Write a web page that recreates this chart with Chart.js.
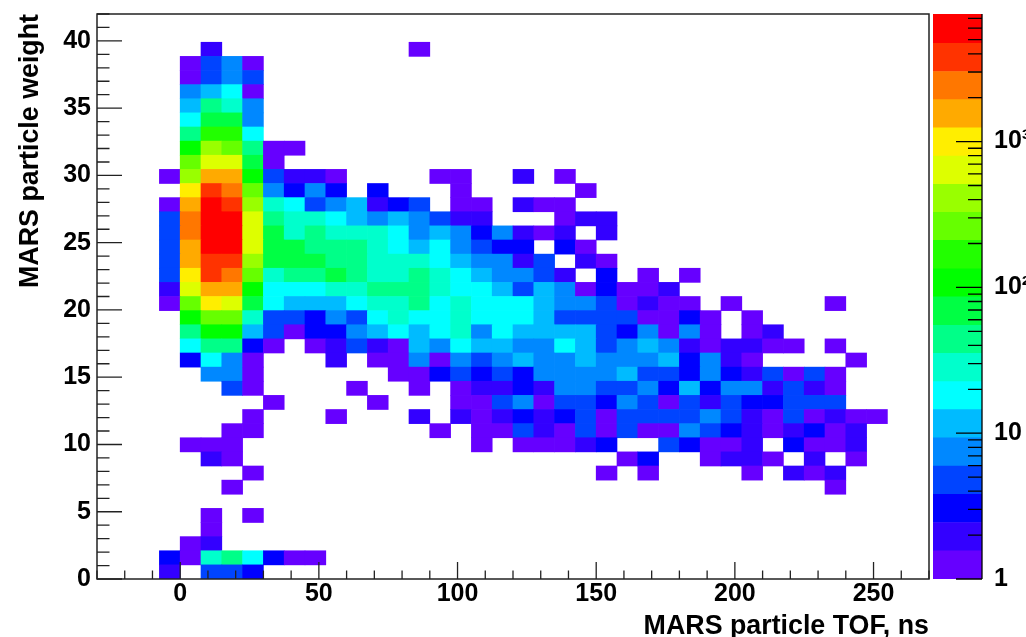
<!DOCTYPE html>
<html>
<head>
<meta charset="utf-8">
<title>MARS particle weight vs TOF</title>
<script src="https://cdn.jsdelivr.net/npm/chart.js@4/dist/chart.umd.min.js"></script>
<style>
  html, body { margin: 0; padding: 0; background: #fff; overflow: hidden; }
  #mainChart { position: absolute; left: 0; top: 0; }
  #paletteChart { position: absolute; left: 925px; top: 0; }
</style>
</head>
<body>
<canvas id="mainChart" width="1026" height="637"></canvas>
<canvas id="paletteChart" width="101" height="637"></canvas>
<script>
// lower edge of each TOF bin, ns
const tofBins = [-30, -22.5, -15, -7.5, 0, 7.5, 15, 22.5, 30, 37.5, 45, 52.5, 60, 67.5, 75, 82.5, 90, 97.5, 105, 112.5,
    120, 127.5, 135, 142.5, 150, 157.5, 165, 172.5, 180, 187.5, 195, 202.5, 210, 217.5, 225, 232.5, 240, 247.5, 255, 262.5];
const weightBinHeight = 1.05;

// entries per cell, first line is the bottom row (weight 0), short rows are empty to the right
const counts = [
    [0,0,0,2,0,5,5,3],
    [0,0,0,3,1,28,44,18,3,1,1],
    [0,0,0,0,1,2],
    [0,0,0,0,0,1],
    [0,0,0,0,0,1,0,1],
    [],
    [0,0,0,0,0,0,1,0,0,0,0,0,0,0,0,0,0,0,0,0,0,0,0,0,0,0,0,0,0,0,0,0,0,0,0,1],
    [0,0,0,0,0,0,0,1,0,0,0,0,0,0,0,0,0,0,0,0,0,0,0,0,1,0,1,0,0,0,0,1,0,2,1,2],
    [0,0,0,0,0,2,1,0,0,0,0,0,0,0,0,0,0,0,0,0,0,0,0,0,0,1,3,0,0,1,2,2,1,0,2,0,1],
    [0,0,0,0,1,1,1,0,0,0,0,0,0,0,0,0,0,0,1,0,1,1,1,2,3,0,0,5,3,1,1,2,0,3,1,1,2],
    [0,0,0,0,0,0,1,1,0,0,0,0,0,0,0,0,1,0,1,1,5,2,1,5,1,5,1,1,8,5,3,2,1,2,3,1,2],
    [0,0,0,0,0,0,0,1,0,0,0,1,0,0,0,2,0,2,1,2,3,2,3,5,1,5,5,5,5,8,5,2,1,5,1,2,1,1],
    [0,0,0,0,0,0,0,0,1,0,0,0,0,1,0,0,0,1,1,5,8,1,5,5,3,8,5,1,5,2,5,3,3,5,5,5],
    [0,0,0,0,0,0,5,1,0,0,0,0,1,0,0,1,0,1,2,2,3,2,8,8,5,5,8,3,12,3,8,8,2,5,2,1],
    [0,0,0,0,0,8,8,1,0,0,0,0,0,0,1,1,3,5,3,5,3,8,8,8,8,12,5,5,3,8,3,2,5,1,5,1],
    [0,0,0,0,3,18,8,1,0,0,0,2,0,1,1,8,1,8,5,8,12,8,8,12,8,8,8,12,3,8,2,1,0,0,0,0,1],
    [0,0,0,0,18,44,44,3,1,0,1,2,5,2,1,12,8,18,12,12,8,8,18,12,5,8,12,8,2,1,2,2,1,1,0,1],
    [0,0,0,0,44,110,110,12,5,1,3,3,8,12,18,12,18,28,8,18,12,12,12,12,5,3,8,1,8,1,0,1,2],
    [0,0,0,0,110,260,260,28,5,5,3,8,5,18,28,18,18,28,18,18,18,12,5,5,5,5,1,1,3,1,0,1],
    [0,0,0,1,260,1000,640,70,18,12,12,12,18,28,28,44,18,28,18,18,18,12,8,8,5,1,2,1,1,0,1,0,0,0,0,1],
    [0,0,0,2,640,1550,1550,110,18,18,18,28,28,44,44,44,28,18,18,12,5,12,8,1,3,1,1,2],
    [0,0,0,5,1000,3800,2400,260,28,44,44,70,44,28,28,44,28,18,12,8,8,5,2,0,3,0,1,0,1],
    [0,0,0,5,1550,3800,3800,410,70,70,70,44,44,28,28,28,18,12,8,8,2,5,0,2,1],
    [0,0,0,5,1550,6000,6000,640,70,70,44,44,44,28,18,12,18,8,5,3,3,0,3,1],
    [0,0,0,5,2400,6000,6000,640,70,28,44,28,28,28,18,8,12,8,3,8,2,1,2,0,2],
    [0,0,0,5,2400,6000,6000,640,44,28,28,18,12,8,12,8,5,2,2,0,0,0,1,2,2],
    [0,0,0,1,1550,6000,3800,410,28,18,5,8,12,2,3,5,0,1,1,0,2,1,1],
    [0,0,0,0,1000,3800,2400,260,8,3,8,3,0,3,0,0,0,1,0,0,0,0,0,1],
    [0,0,0,1,410,1550,1550,110,5,2,2,1,0,0,0,0,1,1,0,0,2,0,1],
    [0,0,0,0,260,640,640,70,1],
    [0,0,0,0,110,410,260,44,1,1],
    [0,0,0,0,44,170,170,18],
    [0,0,0,0,18,70,70,8],
    [0,0,0,0,12,44,28,8],
    [0,0,0,0,8,12,18,1],
    [0,0,0,0,1,5,8,5],
    [0,0,0,0,1,5,8,1],
    [0,0,0,0,0,2,0,0,0,0,0,0,0,0,0,1],
    [],
    []
];

// colour contours of the z axis
const zEdges = [1, 1.56, 2.44, 3.81, 5.95, 9.28, 14.5, 22.6, 35.3, 55, 86, 134, 210, 327, 510, 796, 1242, 1939, 3025, 4720, 7500];
const zColors = ['#6600ff', '#3300ff', '#0000ff', '#0044ff', '#0088ff', '#00bbff', '#00ffff', '#00ffcc', '#00ff88', '#00ff44',
    '#00ff00', '#22ff00', '#66ff00', '#99ff00', '#ddff00', '#ffee00', '#ffaa00', '#ff7700', '#ff3300', '#ff0000'];
const zTicks = [1, 2, 3, 4, 5, 6, 7, 8, 9, 10, 20, 30, 40, 50, 60, 70, 80, 90, 100, 200, 300, 400, 500, 600, 700, 800, 900,
    1000, 2000, 3000, 4000, 5000, 6000, 7000];
const zLabels = { 1: '1', 10: '10', 100: '10²', 1000: '10³' };

const axisFont = { family: '"Liberation Sans", Arial, sans-serif', size: 25, weight: 'bold' };
const titleFont = { family: '"Liberation Sans", Arial, sans-serif', size: 26.8, weight: 'bold', lineHeight: 1 };
const inkColor = '#222';

function colorFor(v) {
    let i = 0;
    while (i < zColors.length - 1 && v >= zEdges[i + 1]) i++;
    return zColors[i];
}

// one dataset per weight row, floating bars so empty cells stay white
const rowDatasets = counts.map(function(row, r) {
    return {
        label: 'weight row ' + r,
        data: tofBins.map(function(_, c) {
            return row[c] ? [r * weightBinHeight, (r + 1) * weightBinHeight] : null;
        }),
        backgroundColor: tofBins.map(function(_, c) {
            return row[c] ? colorFor(row[c]) : 'transparent';
        }),
        borderWidth: 0,
        barPercentage: 1,
        categoryPercentage: 1,
        grouped: false
    };
});

// ROOT style ticks, they point into the frame
const frameTicks = {
    id: 'frameTicks',
    afterDraw: function(chart) {
        const c = chart.ctx, a = chart.chartArea;
        const tof = chart.scales.tof, y = chart.scales.y;
        c.save();
        c.strokeStyle = inkColor;
        c.lineWidth = 1.3;
        c.beginPath();
        tof.ticks.forEach(function(t) {
            const px = tof.getPixelForValue(t.value);
            c.moveTo(px, a.bottom);
            c.lineTo(px, a.bottom - (t.value % 50 === 0 ? 17 : 8.5));
        });
        y.ticks.forEach(function(t) {
            const py = y.getPixelForValue(t.value);
            c.moveTo(a.left, py);
            c.lineTo(a.left + (t.value % 5 === 0 ? 25 : 12.5), py);
        });
        c.stroke();
        c.lineWidth = 1.5;
        c.strokeRect(a.left, a.top, a.right - a.left, a.bottom - a.top);
        c.restore();
    }
};

new Chart(document.getElementById('mainChart').getContext('2d'), {
    type: 'bar',
    data: { labels: tofBins, datasets: rowDatasets },
    options: {
        responsive: false,
        animation: false,
        layout: { padding: { top: 14, right: 97, left: 0, bottom: 0 } },
        plugins: { legend: { display: false }, tooltip: { enabled: false } },
        scales: {
            x: { display: false },
            tof: {
                type: 'linear',
                position: 'bottom',
                offset: false, // bar charts turn this on by default
                min: -30,
                max: 270,
                afterFit: function(s) {
                    s.height = 58;
                    s.paddingLeft = 0;
                    s.paddingRight = 0;
                },
                grid: { display: false, drawTicks: false, offset: false },
                border: { display: false },
                ticks: {
                    stepSize: 10,
                    autoSkip: false,
                    maxRotation: 0,
                    padding: 0,
                    color: '#000',
                    font: axisFont,
                    callback: function(v) { return v % 50 === 0 ? String(v) : ''; }
                },
                title: {
                    display: true,
                    text: 'MARS particle TOF, ns',
                    align: 'end',
                    color: '#000',
                    font: titleFont,
                    padding: { top: 0, bottom: -3 }
                }
            },
            y: {
                min: 0,
                max: 42,
                afterFit: function(s) {
                    s.width = 97;
                    s.paddingTop = 0;
                    s.paddingBottom = 0;
                },
                grid: { display: false, drawTicks: false },
                border: { display: false },
                ticks: {
                    stepSize: 1,
                    autoSkip: false,
                    padding: 6,
                    color: '#000',
                    font: axisFont,
                    callback: function(v) { return v % 5 === 0 ? String(v) : ''; }
                },
                title: {
                    display: true,
                    text: 'MARS particle weight',
                    align: 'end',
                    color: '#000',
                    font: titleFont,
                    padding: { top: 17, bottom: 0 }
                }
            }
        }
    },
    plugins: [frameTicks]
});

// palette on the right
const paletteTicks = {
    id: 'paletteTicks',
    afterDraw: function(chart) {
        const c = chart.ctx, a = chart.chartArea, z = chart.scales.z;
        c.save();
        c.strokeStyle = '#000';
        c.lineWidth = 1.3;
        c.beginPath();
        z.ticks.forEach(function(t) {
            const py = z.getPixelForValue(t.value);
            c.moveTo(a.right, py);
            c.lineTo(a.right - (zLabels[t.value] ? 26 : 14), py);
        });
        c.moveTo(a.right, a.top);
        c.lineTo(a.right, a.bottom);
        c.stroke();
        c.restore();
    }
};

new Chart(document.getElementById('paletteChart').getContext('2d'), {
    type: 'bar',
    data: {
        labels: ['z'],
        datasets: zColors.map(function(col, i) {
            return {
                label: 'level ' + i,
                data: [[zEdges[i], zEdges[i + 1]]],
                backgroundColor: col,
                borderWidth: 0,
                barPercentage: 1,
                categoryPercentage: 1,
                grouped: false,
                yAxisID: 'z'
            };
        })
    },
    options: {
        responsive: false,
        animation: false,
        layout: { padding: { left: 8, top: 14, right: 0, bottom: 58 } },
        plugins: { legend: { display: false }, tooltip: { enabled: false } },
        scales: {
            x: { display: false },
            z: {
                type: 'logarithmic',
                position: 'right',
                min: 1,
                max: 7500,
                afterFit: function(s) {
                    s.width = 44;
                    s.paddingTop = 0;
                    s.paddingBottom = 0;
                },
                afterBuildTicks: function(s) {
                    s.ticks = zTicks.map(function(v) { return { value: v }; });
                },
                grid: { display: false, drawTicks: false },
                border: { display: false },
                ticks: {
                    autoSkip: false,
                    padding: 12,
                    color: '#000',
                    font: axisFont,
                    callback: function(v) { return zLabels[v] || ''; }
                }
            }
        }
    },
    plugins: [paletteTicks]
});
</script>
</body>
</html>
